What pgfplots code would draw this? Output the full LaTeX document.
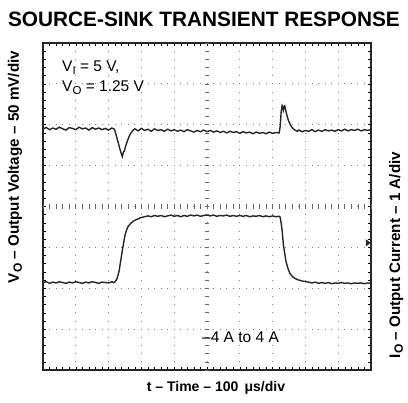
\documentclass[border=0pt]{standalone}
\usepackage{fontspec}
\setmainfont{Liberation Sans}
\usepackage{pgfplots}
\pgfplotsset{compat=1.18}

\pgfplotstableread{
x y
0.0 5.90
0.1 5.93
0.2 5.88
0.3 5.92
0.4 5.89
0.5 5.94
0.6 5.90
0.7 5.87
0.8 5.93
0.9 5.91
1.0 5.88
1.1 5.94
1.2 5.90
1.3 5.92
1.4 5.87
1.5 5.93
1.6 5.89
1.7 5.92
1.8 5.88
1.9 5.91
2.0 5.87
2.1 5.92
2.18 5.89
2.22 5.78
2.28 5.60
2.34 5.42
2.40 5.26
2.42 5.22
2.45 5.33
2.48 5.36
2.52 5.48
2.58 5.62
2.64 5.74
2.70 5.82
2.75 5.87
2.8 5.90
2.9 5.85
3.0 5.91
3.1 5.86
3.2 5.89
3.3 5.84
3.4 5.90
3.5 5.86
3.6 5.88
3.7 5.84
3.8 5.89
3.9 5.85
4.0 5.88
4.1 5.84
4.2 5.87
4.3 5.83
4.4 5.88
4.5 5.85
4.6 5.82
4.7 5.86
4.8 5.83
4.9 5.87
5.0 5.83
5.1 5.86
5.2 5.82
5.3 5.85
5.4 5.81
5.5 5.84
5.6 5.80
5.7 5.84
5.8 5.81
5.9 5.83
6.0 5.79
6.1 5.83
6.2 5.80
6.3 5.82
6.4 5.78
6.5 5.82
6.6 5.79
6.7 5.81
6.8 5.78
6.9 5.82
7.0 5.79
7.1 5.81
7.2 5.80
7.23 5.95
7.26 6.30
7.29 6.47
7.31 6.44
7.33 6.36
7.35 6.44
7.37 6.46
7.40 6.35
7.44 6.22
7.48 6.11
7.53 6.02
7.58 5.95
7.63 5.90
7.68 5.87
7.75 5.84
7.8 5.87
7.9 5.83
8.0 5.86
8.1 5.84
8.2 5.88
8.3 5.83
8.4 5.87
8.5 5.84
8.6 5.88
8.7 5.85
8.8 5.87
8.9 5.84
9.0 5.88
9.1 5.85
9.2 5.89
9.3 5.85
9.4 5.88
9.5 5.86
9.6 5.89
9.7 5.85
9.8 5.88
9.9 5.86
10.0 5.88
}\voltage

\pgfplotstableread{
x y
0.0 2.14
0.1 2.16
0.2 2.12
0.3 2.15
0.4 2.13
0.5 2.16
0.6 2.14
0.7 2.12
0.8 2.15
0.9 2.13
1.0 2.16
1.1 2.14
1.2 2.12
1.3 2.15
1.4 2.13
1.5 2.16
1.6 2.14
1.7 2.12
1.8 2.15
1.9 2.14
2.0 2.13
2.1 2.16
2.15 2.14
2.20 2.16
2.26 2.24
2.32 2.42
2.37 2.68
2.43 2.98
2.50 3.30
2.55 3.43
2.60 3.52
2.68 3.59
2.75 3.64
2.85 3.68
2.96 3.72
3.05 3.74
3.2 3.77
3.3 3.75
3.4 3.78
3.5 3.76
3.6 3.78
3.7 3.75
3.8 3.77
3.9 3.79
4.0 3.76
4.1 3.78
4.2 3.75
4.3 3.78
4.4 3.76
4.5 3.79
4.6 3.77
4.7 3.79
4.8 3.76
4.9 3.78
5.0 3.79
5.1 3.77
5.2 3.79
5.3 3.76
5.4 3.78
5.5 3.77
5.6 3.79
5.7 3.76
5.8 3.78
5.9 3.76
6.0 3.78
6.1 3.76
6.2 3.78
6.3 3.75
6.4 3.77
6.5 3.76
6.6 3.78
6.7 3.75
6.8 3.77
6.9 3.75
7.0 3.77
7.1 3.75
7.2 3.76
7.23 3.74
7.26 3.60
7.29 3.42
7.33 3.06
7.37 2.85
7.41 2.65
7.47 2.48
7.53 2.36
7.60 2.29
7.68 2.24
7.80 2.20
7.94 2.17
8.1 2.15
8.2 2.13
8.3 2.15
8.4 2.12
8.5 2.14
8.6 2.12
8.7 2.14
8.8 2.11
8.9 2.13
9.0 2.12
9.1 2.14
9.2 2.12
9.3 2.13
9.4 2.11
9.5 2.13
9.6 2.12
9.7 2.13
9.8 2.11
9.9 2.13
10.0 2.12
}\current

\begin{document}
\begin{tikzpicture}
\path[use as bounding box] (-43pt,-33pt) rectangle (365pt,370pt);
\begin{axis}[
  at={(0pt,0pt)}, anchor=south west,
  scale only axis, width=328pt, height=327pt,
  xmin=0, xmax=10, ymin=0, ymax=8,
  xtick={0,...,10}, ytick={0,...,8},
  minor x tick num=4, minor y tick num=4,
  xticklabels={}, yticklabels={},
  tick align=inside,
  major tick length=3pt, minor tick length=3pt,
  every tick/.style={black, line width=0.5pt},
  grid=major,
  major x grid style={black!50, line width=0.8pt, dash pattern=on 0.8pt off 7.375pt, dash phase=0.4pt},
  major y grid style={black!50, line width=0.8pt, dash pattern=on 0.8pt off 5.76pt, dash phase=0.4pt},
  axis line style={line width=1.3pt, black!85},
]
\addplot[black!85, line width=1.4pt] table[x=x, y=y] {\voltage};
\addplot[black!85, line width=1.4pt] table[x=x, y=y] {\current};
\end{axis}
% center cross with fine ticks
\begin{scope}[x=32.8pt, y=40.875pt]
  \foreach \i in {0,1,...,40} {
    \draw[black!60, line width=0.6pt] ({5-0.07},{\i*0.2}) -- ({5+0.07},{\i*0.2});
  }
  \foreach \i in {0,1,...,50} {
    \draw[black!60, line width=0.6pt] ({\i*0.2},{4-0.055}) -- ({\i*0.2},{4+0.055});
  }
  \fill[black!85] (9.99,3.11) -- (9.84,3.20) -- (9.84,3.02) -- cycle;
\end{scope}
% texts
\node[anchor=base, inner sep=0pt] at (161pt,343.5pt) {\fontsize{20.8}{21}\selectfont\bfseries SOURCE-SINK TRANSIENT RESPONSE};
\node[anchor=base west, inner sep=0pt] at (19pt,298pt) {\fontsize{15.5}{16}\selectfont V\raisebox{-0.35ex}{\fontsize{11.5}{12}\selectfont I} = 5 V,};
\node[anchor=base west, inner sep=0pt] at (19pt,278.5pt) {\fontsize{15.5}{16}\selectfont V\raisebox{-0.35ex}{\fontsize{11.5}{12}\selectfont O} = 1.25 V};
\node[anchor=base west, inner sep=0pt] at (159pt,27pt) {\fontsize{15.5}{16}\selectfont \textendash4 A to 4 A};
\node[anchor=base, inner sep=0pt] at (173pt,-22pt) {\fontsize{14}{15}\selectfont\bfseries t \textendash{} Time \textendash{} 100 \,μs/div};
\node[anchor=base, inner sep=0pt, rotate=90] at (-24pt,203pt) {\fontsize{15.2}{16}\selectfont\bfseries V\raisebox{-0.35ex}{\fontsize{12}{12}\selectfont O} \textendash{} Output Voltage \textendash{} 50 mV/div};
\node[anchor=base, inner sep=0pt, rotate=90] at (357pt,115pt) {\fontsize{15.2}{16}\selectfont\bfseries I\raisebox{-0.35ex}{\fontsize{12}{12}\selectfont O} \textendash{} Output Current \textendash{} 1 A/div};
\end{tikzpicture}
\end{document}
